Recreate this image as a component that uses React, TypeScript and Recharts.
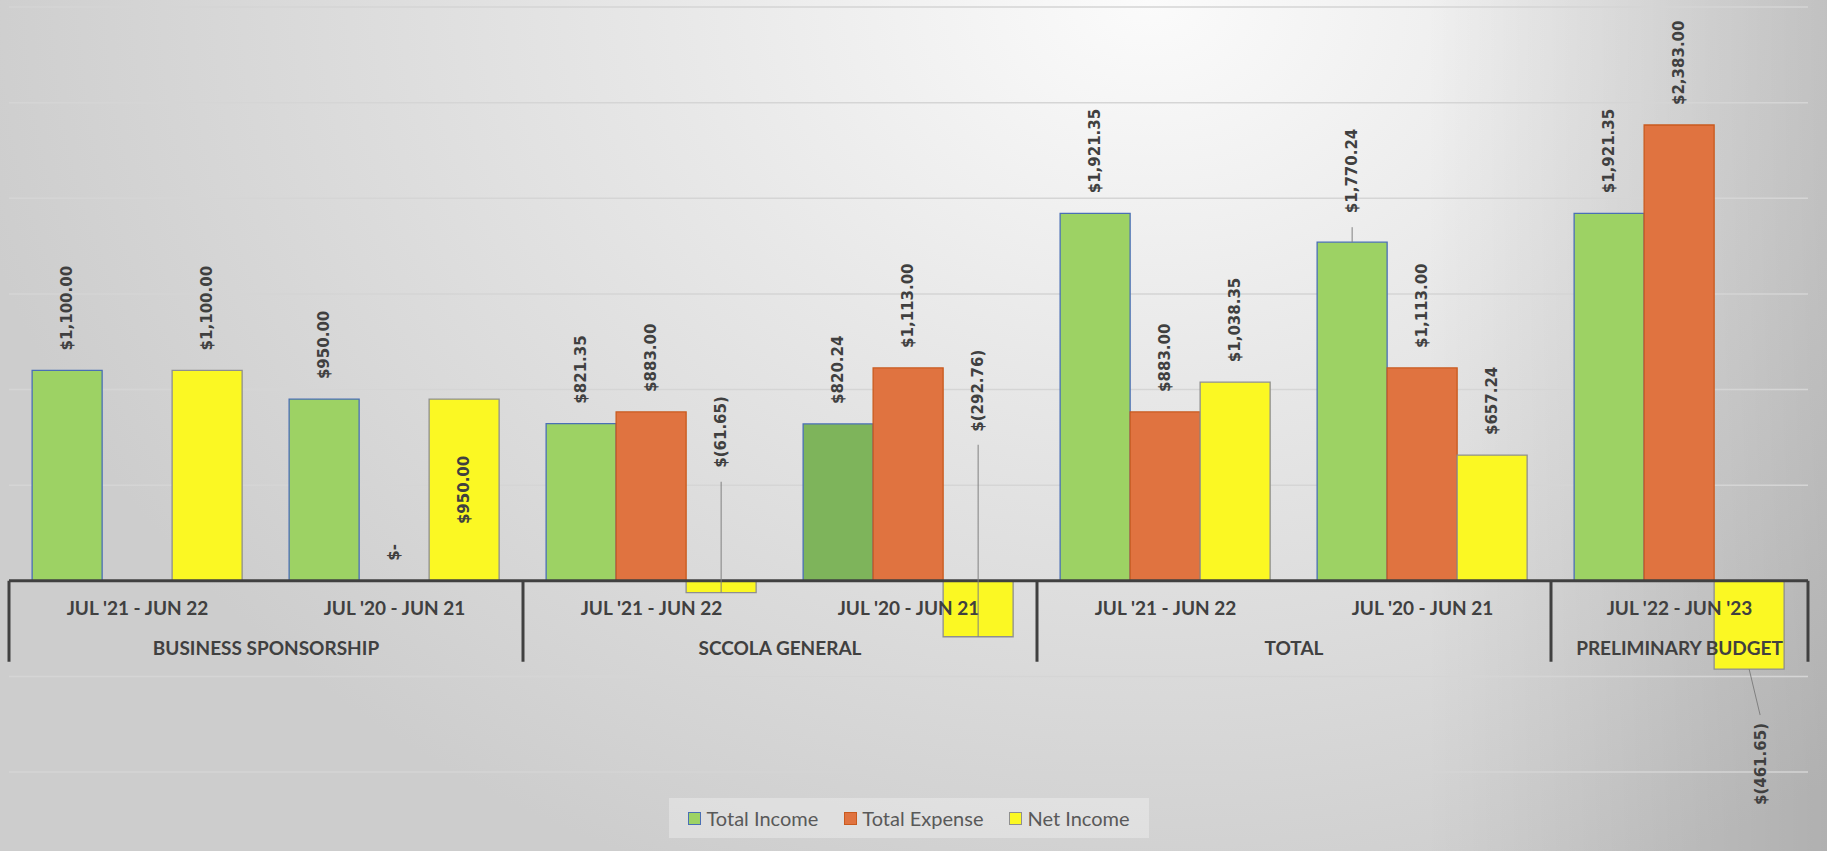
import React from 'react';
import { BarChart, Bar, XAxis, YAxis, CartesianGrid, ReferenceLine, LabelList, Legend, Cell } from 'recharts';

// periods (inner axis level) and the groups they belong to (outer level)
const periods = [
  "JUL '21 - JUN 22",
  "JUL '20 - JUN 21",
  "JUL '21 - JUN 22",
  "JUL '20 - JUN 21",
  "JUL '21 - JUN 22",
  "JUL '20 - JUN 21",
  "JUL '22 - JUN '23",
];
const groups = ['BUSINESS SPONSORSHIP', 'SCCOLA GENERAL', 'TOTAL', 'PRELIMINARY BUDGET'];
const groupSizes = [2, 2, 2, 1];

const totalIncome = [1100, 950, 821.35, 820.24, 1921.35, 1770.24, 1921.35];
const totalExpense = [null, 0, 883, 1113, 883, 1113, 2383];
const netIncome = [1100, 950, -61.65, -292.76, 1038.35, 657.24, -461.65];

const yTicks = [-1000, -500, 0, 500, 1000, 1500, 2000, 2500, 3000];

const data = periods.map((p, i) => ({
  period: p,
  income: totalIncome[i],
  expense: totalExpense[i],
  net: netIncome[i],
}));

const SERIES = [
  { key: 'income', name: 'Total Income', fill: '#9dd264', stroke: '#4a6fb5' },
  { key: 'expense', name: 'Total Expense', fill: '#e07340', stroke: '#c95a1e' },
  { key: 'net', name: 'Net Income', fill: '#fbf823', stroke: '#8f8f8f' },
];
const HIGHLIGHT_INCOME = 3;

const TEXT = '#404040';
const valueFont = { fontFamily: 'DejaVu Sans', fontWeight: 700, fontSize: 15, fill: TEXT };
const axisFont = { fontFamily: 'Lato', fontWeight: 700, fontSize: 19, fill: TEXT };

const fmt = (v: number) => {
  if (v === 0) return '$-';
  const s = Math.abs(v).toLocaleString('en-US', { minimumFractionDigits: 2, maximumFractionDigits: 2 });
  return v < 0 ? `$(${s})` : `$${s}`;
};

// labels that Excel moved away from the bar end, with a leader line
type Place = { mode: 'inside' | 'leaderAbove' | 'leaderBelow'; gap?: number; lineGap?: number; dx?: number };
const placements: Record<string, Place> = {
  'income-5': { mode: 'leaderAbove', gap: 29, lineGap: 15 },
  'net-1': { mode: 'inside' },
  'net-2': { mode: 'leaderAbove', gap: 113, lineGap: 99 },
  'net-3': { mode: 'leaderAbove', gap: 149, lineGap: 136 },
  'net-6': { mode: 'leaderBelow', gap: 136, lineGap: 46, dx: 12 },
};

const vText = (x: number, y: number, s: string, anchor: 'start' | 'middle' = 'start') => (
  <text x={x} y={y} transform={`rotate(-90 ${x} ${y})`} textAnchor={anchor} dominantBaseline="central" {...valueFont}>
    {s}
  </text>
);

const valueLabel = (series: string) => (props: any) => {
  const { value, index } = props;
  if (value === null || value === undefined) return null;
  const vb = props.viewBox ?? props;
  const x = Number(vb.x), y = Number(vb.y), w = Number(vb.width), h = Number(vb.height) || 0;
  const cx = x + w / 2;
  const v = Number(value);
  // zero-valued bars get a 1px min size so they keep a label; anchor on the zero line
  const top = v === 0 ? Math.max(y, y + h) : Math.min(y, y + h);
  const bottom = Math.max(y, y + h);
  const text = fmt(v);
  const place = placements[`${series}-${index}`];
  const lineStyle = { stroke: '#808080', strokeWidth: 1 };

  if (!place) return <g>{vText(cx, top - 20, text)}</g>;
  if (place.mode === 'inside') return <g>{vText(cx, (top + bottom) / 2, text, 'middle')}</g>;
  if (place.mode === 'leaderAbove') {
    const end = v < 0 ? bottom : top;
    return (
      <g>
        <line x1={cx} y1={top - place.lineGap!} x2={cx} y2={end} {...lineStyle} />
        {vText(cx, top - place.gap!, text)}
      </g>
    );
  }
  return (
    <g>
      <line x1={cx} y1={bottom} x2={cx + place.dx! - 1} y2={bottom + place.lineGap!} {...lineStyle} />
      {vText(cx + place.dx!, bottom + place.gap!, text)}
    </g>
  );
};

// two-level category axis drawn along the zero line
const CategoryAxis = (props: any) => {
  const { x, y, width } = props.viewBox;
  const band = width / periods.length;
  const sep = { stroke: TEXT, strokeWidth: 3 };
  const parts: React.ReactNode[] = [<line key="s0" x1={x} y1={y} x2={x} y2={y + 81} {...sep} />];
  let start = 0;
  groups.forEach((g, gi) => {
    const n = groupSizes[gi];
    const right = x + (start + n) * band;
    parts.push(<line key={`s${gi + 1}`} x1={right} y1={y} x2={right} y2={y + 81} {...sep} />);
    parts.push(
      <text key={`g${gi}`} x={x + (start + n / 2) * band} y={y + 67} textAnchor="middle" dominantBaseline="central" {...axisFont}>
        {g}
      </text>
    );
    start += n;
  });
  periods.forEach((p, i) => {
    parts.push(
      <text key={`p${i}`} x={x + (i + 0.5) * band} y={y + 27} textAnchor="middle" dominantBaseline="central" {...axisFont}>
        {p}
      </text>
    );
  });
  return <g>{parts}</g>;
};

const LegendBox = () => (
  <div
    style={{
      display: 'flex',
      alignItems: 'center',
      justifyContent: 'center',
      gap: 26,
      height: 40,
      background: 'rgba(255,255,255,0.3)',
      fontFamily: 'Lato',
      fontSize: 20,
      color: '#595959',
    }}
  >
    {SERIES.map((s) => (
      <div key={s.key} style={{ display: 'flex', alignItems: 'center', gap: 5 }}>
        <span style={{ width: 11, height: 11, background: s.fill, border: `1.5px solid ${s.stroke}` }} />
        <span>{s.name}</span>
      </div>
    ))}
  </div>
);

export default function App() {
  return (
    <div
      style={{
        width: 1827,
        height: 851,
        position: 'absolute',
        left: 0,
        top: 0,
        background:
          'linear-gradient(to right, rgba(0,0,0,0) 78%, rgba(0,0,0,0.14) 100%), radial-gradient(1200px 950px at 1150px 0px, #fbfbfb 0%, #e8e8e8 40%, #cdcdcd 100%)',
      }}
    >
      <BarChart
        width={1827}
        height={851}
        data={data}
        margin={{ top: 7, right: 19, bottom: 79, left: 9 }}
        barGap={0}
        barCategoryGap="9%"
      >
        <CartesianGrid vertical={false} stroke="#d5d5d5" strokeWidth={1.5} />
        <XAxis dataKey="period" hide />
        <YAxis hide domain={[-1000, 3000]} ticks={yTicks} />
        <Legend
          verticalAlign="middle"
          align="center"
          wrapperStyle={{ top: 798, left: 669, width: 480, height: 40 }}
          content={() => <LegendBox />}
        />
        {SERIES.map((s) => (
          <Bar
            key={s.key}
            dataKey={s.key}
            name={s.name}
            fill={s.fill}
            stroke={s.stroke}
            strokeWidth={1.3}
            minPointSize={(v: any) => (v === 0 ? 1 : 0)}
            isAnimationActive={false}
          >
            {data.map((d: any, i) => {
              const zero = d[s.key] === 0;
              const fill = s.key === 'income' && i === HIGHLIGHT_INCOME ? '#7eb45b' : s.fill;
              return <Cell key={i} fill={zero ? 'none' : fill} stroke={zero ? 'none' : s.stroke} />;
            })}
            <LabelList dataKey={s.key} content={valueLabel(s.key)} />
          </Bar>
        ))}
        <ReferenceLine y={0} stroke={TEXT} strokeWidth={3} label={(p: any) => <CategoryAxis {...p} />} />
      </BarChart>
    </div>
  );
}
